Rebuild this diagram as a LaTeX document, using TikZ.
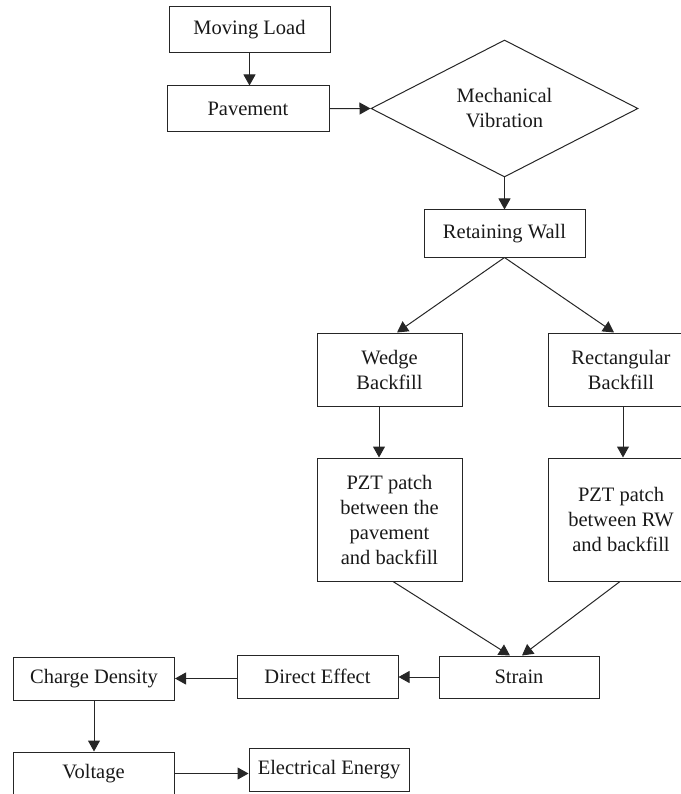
\documentclass[tikz,border=0pt]{standalone}
\usepackage{fontspec}
\setmainfont{Liberation Serif}
\usetikzlibrary{shapes.geometric,arrows.meta}

\begin{document}
\begin{tikzpicture}[x=1pt,y=-1pt,
	box/.style={draw=black!85, line width=1pt, text=black!90, align=center, inner sep=0pt, font=\fontsize{20.5}{25}\selectfont},
	decision/.style={box, diamond, minimum width=267, minimum height=137},
	flow/.style={draw=black!85, line width=1pt, -{Triangle[length=11pt,width=12pt]}}]
	\useasboundingbox (0,0) rectangle (680,794);
	
	% Upper chain
	\node [box, minimum width=161, minimum height=46] (load) at (249.5,30) {Moving Load};
	\node [box, minimum width=162, minimum height=46] (pave) at (248,109) {Pavement};
	\node [decision] (vib) at (504.5,108.5) {Mechanical\\Vibration};
	\node [box, minimum width=161, minimum height=47] (wall) at (504.5,233.5) {Retaining Wall};
	
	% Two backfill branches
	\node [box, minimum width=145, minimum height=73] (wedge) at (389.5,369.5) {Wedge\\Backfill};
	\node [box, minimum width=146, minimum height=73] (rect) at (621,369.5) {Rectangular\\Backfill};
	\node [box, minimum width=145, minimum height=123] (pztw) at (389.5,519.5) {PZT patch\\between the\\pavement\\and backfill};
	\node [box, minimum width=146, minimum height=123] (pztr) at (621,519.5) {PZT patch\\between RW\\and backfill};
	
	% Lower chain
	\node [box, minimum width=160, minimum height=42] (strain) at (519,677) {Strain};
	\node [box, minimum width=161, minimum height=43] (direct) at (317.5,676.5) {Direct Effect};
	\node [box, minimum width=161, minimum height=43] (charge) at (94,678.5) {Charge Density};
	\node [box, minimum width=161, minimum height=43] (volt) at (93.5,773.5) {Voltage};
	\node [box, minimum width=160, minimum height=43] (elec) at (329,769.5) {Electrical Energy};
	
	% Connectors
	\draw [flow] (load.south) -- (load.south |- pave.north);
	\draw [flow] (pave) -- (vib.west);
	\draw [flow] (vib.south) -- (wall);
	\draw [flow] (wall.south) -- ([xshift=7.5pt]wedge.north);
	\draw [flow] (wall.south) -- ([xshift=-7pt]rect.north);
	\draw [flow] ([xshift=-10.5pt]wedge.south) -- ([xshift=-10.5pt]pztw.north);
	\draw [flow] ([xshift=2pt]rect.south) -- ([xshift=2pt]pztr.north);
	\draw [flow] ([xshift=3.5pt]pztw.south) -- ([xshift=-9pt]strain.north);
	\draw [flow] ([xshift=-1pt]pztr.south) -- ([xshift=3pt]strain.north);
	\draw [flow] (strain.west) -- (strain.west -| direct.east);
	\draw [flow] (direct.west |- charge.east) -- (charge.east);
	\draw [flow] (charge.south) -- (charge.south |- volt.north);
	\draw [flow] (volt.east) -- (volt.east -| elec.west);
	
\end{tikzpicture}
\end{document}
